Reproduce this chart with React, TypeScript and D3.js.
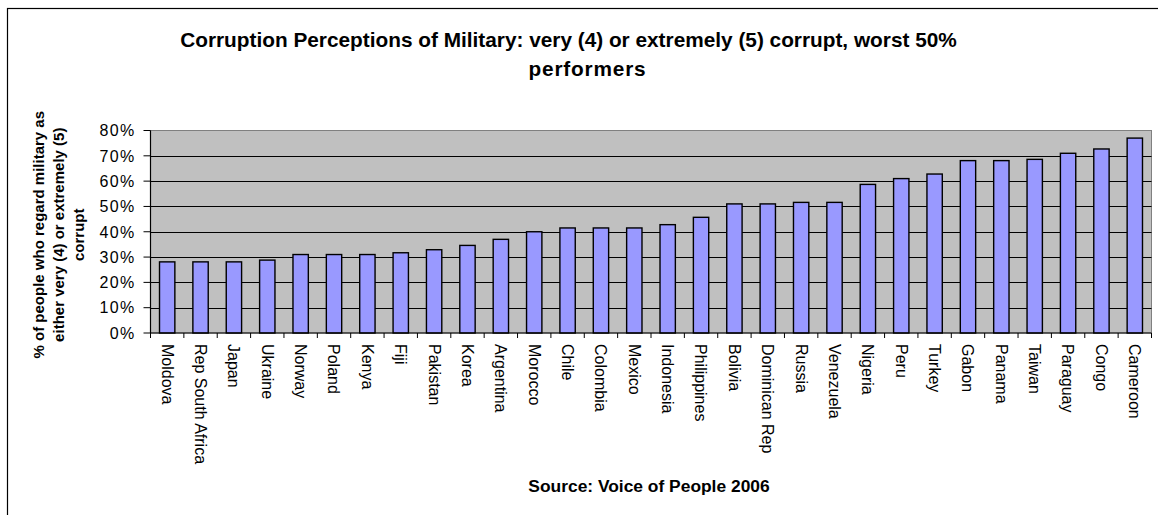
import React from "react";
import * as d3 from "d3";

const countries = [
  "Moldova", "Rep South Africa", "Japan", "Ukraine", "Norway", "Poland", "Kenya", "Fiji",
  "Pakistan", "Korea", "Argentina", "Morocco", "Chile", "Colombia", "Mexico", "Indonesia",
  "Philippines", "Bolivia", "Dominican Rep", "Russia", "Venezuela", "Nigeria", "Peru",
  "Turkey", "Gabon", "Panama", "Taiwan", "Paraguay", "Congo", "Cameroon",
];
const values = [
  28.1, 28.1, 28.1, 28.8, 31, 31, 31, 31.7, 32.9, 34.6, 37, 40, 41.5, 41.5, 41.5, 42.8,
  45.7, 51, 51, 51.6, 51.6, 58.7, 61, 62.8, 68.1, 68.1, 68.6, 71, 72.7, 77,
];
const yTicks = [0, 10, 20, 30, 40, 50, 60, 70, 80];
const titleLines = [
  "Corruption Perceptions of Military: very (4) or extremely (5) corrupt, worst 50%",
  "performers",
];
const yTitleLines = [
  "% of people who regard military as",
  "either very (4) or extremely (5)",
  "corrupt",
];
const sourceText = "Source: Voice of People 2006";

const W = 1158;
const H = 515;
const plot = { left: 150.5, right: 1151.5, top: 130.5, bottom: 333 };
const FONT = "'Liberation Sans', Arial, sans-serif";

export default function App() {
  const x = d3
    .scaleBand<string>()
    .domain(countries)
    .range([plot.left, plot.right])
    .paddingInner(0)
    .paddingOuter(0);
  const y = d3.scaleLinear().domain([0, 80]).range([plot.bottom, plot.top]);
  const bw = x.bandwidth() * 0.46;
  const yMid = (plot.top + plot.bottom) / 2 + 3;
  const xMid = (plot.left + plot.right) / 2;

  return (
    <svg
      width={W}
      height={H}
      style={{ position: "absolute", left: 0, top: 0, background: "#fff" }}
      fontFamily={FONT}
    >
      <rect x={7.5} y={8.5} width={W + 20} height={H + 20} fill="#fff" stroke="#000" strokeWidth={1.2} />

      {/* title */}
      <text x={568.5} y={47} textAnchor="middle" fontSize={20.8} fontWeight="bold" fill="#000">
        {titleLines[0]}
      </text>
      <text x={587.5} y={76} textAnchor="middle" fontSize={20.8} fontWeight="bold" letterSpacing={0.8} fill="#000">
        {titleLines[1]}
      </text>

      {/* plot background */}
      <rect
        x={plot.left}
        y={plot.top}
        width={plot.right - plot.left}
        height={plot.bottom - plot.top}
        fill="#c0c0c0"
        stroke="#808080"
        strokeWidth={1}
      />

      {/* gridlines */}
      {yTicks.slice(1, -1).map((t) => (
        <line
          key={"g" + t}
          x1={plot.left}
          x2={plot.right}
          y1={Math.round(y(t)) + 0.5}
          y2={Math.round(y(t)) + 0.5}
          stroke="#000"
          strokeWidth={1}
        />
      ))}

      {/* bars */}
      {countries.map((c, i) => {
        const cx = (x(c) as number) + x.bandwidth() / 2;
        return (
          <rect
            key={c}
            x={cx - bw / 2}
            y={y(values[i])}
            width={bw}
            height={plot.bottom - y(values[i])}
            fill="#9999ff"
            stroke="#000"
            strokeWidth={1.4}
          />
        );
      })}

      {/* axes */}
      <line x1={plot.left} x2={plot.left} y1={plot.top} y2={plot.bottom} stroke="#000" strokeWidth={1.2} />
      <line x1={plot.left} x2={plot.right} y1={plot.bottom} y2={plot.bottom} stroke="#000" strokeWidth={1.2} />
      {yTicks.map((t) => (
        <g key={"y" + t}>
          <line x1={plot.left - 7} x2={plot.left} y1={y(t)} y2={y(t)} stroke="#000" strokeWidth={1} />
          <text x={135.5} y={y(t)} dy="0.36em" textAnchor="end" fontSize={16} letterSpacing={1.3} fill="#000">
            {t + "%"}
          </text>
        </g>
      ))}
      {countries.map((c) => (
        <line
          key={"xt" + c}
          x1={x(c) as number}
          x2={x(c) as number}
          y1={plot.bottom}
          y2={plot.bottom + 5}
          stroke="#000"
          strokeWidth={1}
        />
      ))}
      <line x1={plot.right} x2={plot.right} y1={plot.bottom} y2={plot.bottom + 5} stroke="#000" strokeWidth={1} />

      {/* x labels */}
      {countries.map((c) => {
        const cx = (x(c) as number) + x.bandwidth() / 2;
        return (
          <text
            key={"xl" + c}
            transform={`translate(${cx},${plot.bottom + 11}) rotate(90)`}
            dy="0.35em"
            textAnchor="start"
            fontSize={16}
            fill="#000"
          >
            {c}
          </text>
        );
      })}

      {/* y title */}
      {yTitleLines.map((l, i) => (
        <text
          key={"yt" + i}
          transform={`translate(${39 + i * 20},${yMid}) rotate(-90)`}
          dy="0.35em"
          textAnchor="middle"
          fontSize={15}
          fontWeight="bold"
          fill="#000"
        >
          {l}
        </text>
      ))}

      {/* source */}
      <text x={xMid - 2} y={492} textAnchor="middle" fontSize={17.4} fontWeight="bold" fill="#000">
        {sourceText}
      </text>
    </svg>
  );
}
